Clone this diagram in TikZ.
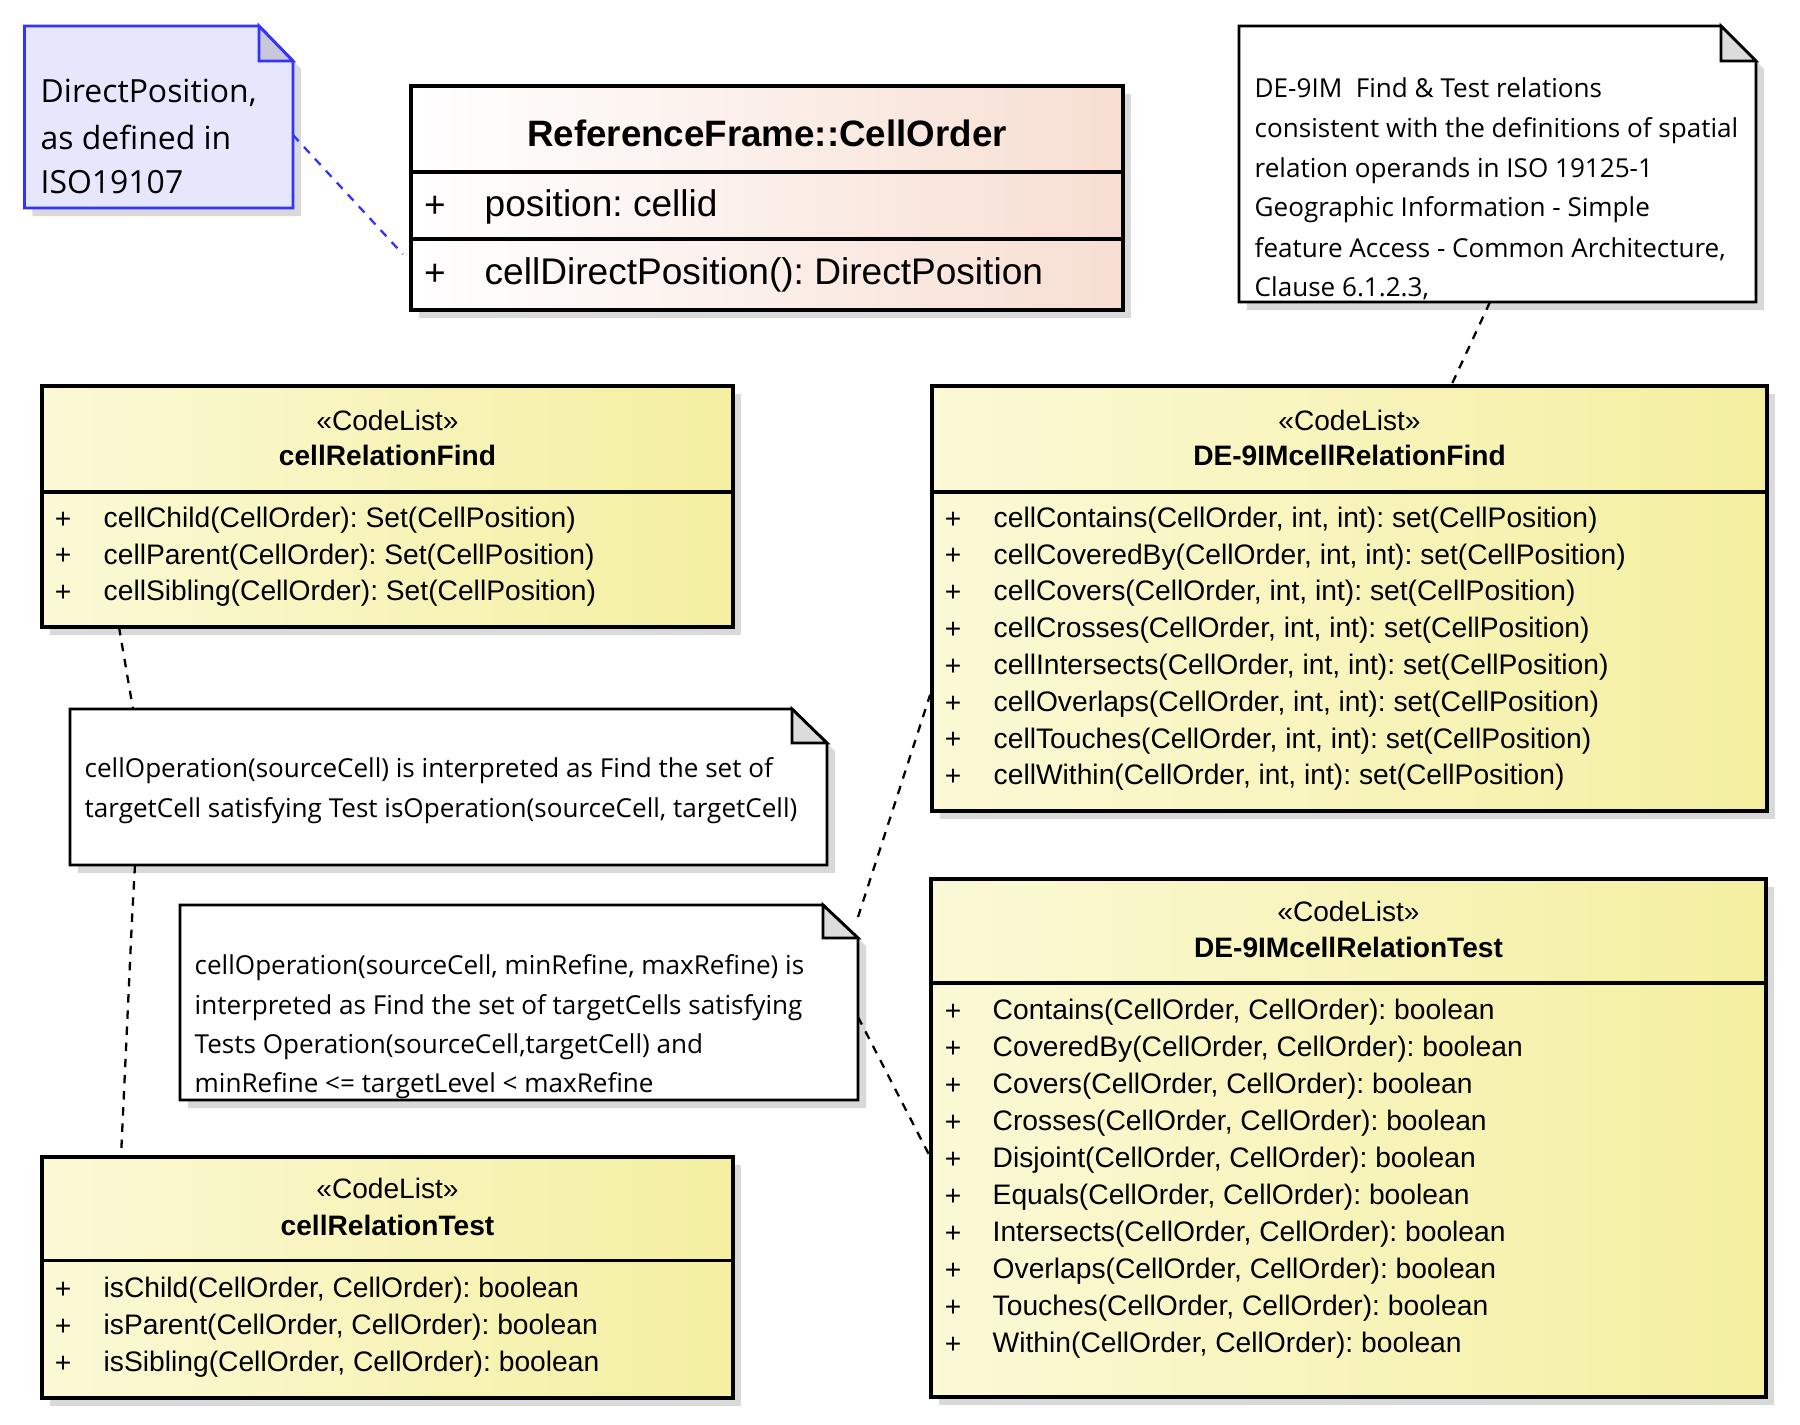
\documentclass[tikz,border=0pt]{standalone}
\usepackage{fontspec}
\usetikzlibrary{shadows}
\newfontfamily\clsfont{Liberation Sans}
\newfontfamily\notefont{Open Sans}
\definecolor{ylL}{RGB}{251,249,214}
\definecolor{ylR}{RGB}{244,239,160}
\definecolor{coR}{RGB}{247,222,210}
\definecolor{shgray}{RGB}{217,217,217}
\definecolor{bnote}{RGB}{230,230,252}
\definecolor{bline}{RGB}{51,51,255}
\definecolor{bfold}{RGB}{200,200,216}
\definecolor{wfold}{RGB}{220,220,220}
\frenchspacing
\begin{document}
\begin{tikzpicture}[
  myshadow/.style={drop shadow={shadow xshift=0.08cm,shadow yshift=-0.08cm,fill=shgray,opacity=1}},
  classbox/.style={draw,line width=0.9pt,inner sep=0pt,outer sep=0pt,left color=ylL,right color=ylR,anchor=north west,myshadow},
  orderbox/.style={draw,line width=0.9pt,inner sep=0pt,outer sep=0pt,left color=white,right color=coR,anchor=north west,myshadow},
  notearea/.style={inner sep=0pt,outer sep=0pt,anchor=north west},
  divider/.style={line width=0.9pt},
  notepath/.style={draw,line width=0.8pt,fill=white,myshadow},
  bnotepath/.style={draw=bline,line width=0.8pt,fill=bnote,myshadow},
  rowtxt/.style={font=\clsfont\fontsize{8.03}{9}\selectfont\frenchspacing,anchor=west,inner sep=0pt},
  plustxt/.style={font=\clsfont\fontsize{8.03}{9}\selectfont,anchor=center,inner sep=0pt},
  stereotxt/.style={font=\clsfont\fontsize{8.0}{9}\selectfont,anchor=center,inner sep=0pt},
  nametxt/.style={font=\clsfont\bfseries\fontsize{8.0}{9}\selectfont,anchor=center,inner sep=0pt},
  bigrow/.style={font=\clsfont\fontsize{10.55}{12}\selectfont\frenchspacing,anchor=west,inner sep=0pt},
  bigplus/.style={font=\clsfont\fontsize{10.5}{12}\selectfont,anchor=center,inner sep=0pt},
  bigname/.style={font=\clsfont\bfseries\fontsize{10.45}{12}\selectfont,anchor=center,inner sep=0pt},
  notetxt/.style={font=\notefont\fontsize{7.42}{9}\selectfont\frenchspacing,anchor=west,inner sep=0pt},
  bignotetxt/.style={font=\notefont\fontsize{9.08}{11}\selectfont\frenchspacing,anchor=west,inner sep=0pt},
  link/.style={line width=0.65pt,dash pattern=on 2.4pt off 2.2pt},
  blink/.style={line width=0.65pt,draw=bline,dash pattern=on 2.4pt off 2.2pt}
]
\useasboundingbox (0,0) rectangle (18,-14.25);

% ---------- note: DirectPosition ----------
\node[notearea,minimum width=2.685cm,minimum height=1.82cm] (dp) at (0.245,-0.26) {};
\path[bnotepath] (dp.north west) -- ([xshift=-0.34cm]dp.north east) -- ([yshift=-0.35cm]dp.north east) -- (dp.south east) -- (dp.south west) -- cycle;
\path[draw=bline,line width=0.8pt,fill=bfold] ([xshift=-0.34cm]dp.north east) -- ([xshift=-0.34cm,yshift=-0.35cm]dp.north east) -- ([yshift=-0.35cm]dp.north east) -- cycle;
\node[bignotetxt] at (0.40,-0.93) {DirectPosition,};
\node[bignotetxt] at (0.40,-1.37) {as defined in};
\node[bignotetxt] at (0.40,-1.82) {ISO19107};

% ---------- class: ReferenceFrame::CellOrder ----------
\node[orderbox,minimum width=7.12cm,minimum height=2.24cm] (co) at (4.11,-0.86) {};
\draw[divider] (co.west |- 0,-1.72) -- (co.east |- 0,-1.72);
\draw[divider] (co.west |- 0,-2.39) -- (co.east |- 0,-2.39);
\node[bigname] at (7.67,-1.33) {ReferenceFrame::CellOrder};
\node[bigplus] at (4.35,-2.065) {+};
\node[bigrow] at (4.84,-2.065) {position: cellid};
\node[bigplus] at (4.35,-2.745) {+};
\node[bigrow] at (4.84,-2.745) {cellDirectPosition(): DirectPosition};

% ---------- note: DE-9IM ----------
\node[notearea,minimum width=5.17cm,minimum height=2.76cm] (de) at (12.39,-0.26) {};
\path[notepath] (de.north west) -- ([xshift=-0.35cm]de.north east) -- ([yshift=-0.35cm]de.north east) -- (de.south east) -- (de.south west) -- cycle;
\path[draw,line width=0.8pt,fill=wfold] ([xshift=-0.35cm]de.north east) -- ([xshift=-0.35cm,yshift=-0.35cm]de.north east) -- ([yshift=-0.35cm]de.north east) -- cycle;
\node[notetxt] at (12.54,-0.88) {DE-9IM\ \ Find \& Test relations};
\node[notetxt] at (12.54,-1.305) {consistent with the definitions of spatial};
\node[notetxt] at (12.54,-1.705) {relation operands in ISO 19125-1};
\node[notetxt] at (12.54,-2.095) {Geographic Information - Simple};
\node[notetxt] at (12.54,-2.49) {feature Access - Common Architecture,};
\node[notetxt] at (12.54,-2.88) {Clause 6.1.2.3,};

% ---------- class: cellRelationFind ----------
\node[classbox,minimum width=6.91cm,minimum height=2.41cm] (crf) at (0.42,-3.86) {};
\draw[divider] (crf.west |- 0,-4.92) -- (crf.east |- 0,-4.92);
\node[stereotxt] at (3.875,-4.20) {«CodeList»};
\node[nametxt] at (3.875,-4.55) {cellRelationFind};
\foreach \t [count=\i from 0] in {{cellChild(CellOrder): Set(CellPosition)},{cellParent(CellOrder): Set(CellPosition)},{cellSibling(CellOrder): Set(CellPosition)}} {
  \node[plustxt] at (0.63,-5.20-0.367*\i) {+};
  \node[rowtxt] at (1.03,-5.20-0.367*\i) {\t};
}

% ---------- class: DE-9IMcellRelationFind ----------
\node[classbox,minimum width=8.35cm,minimum height=4.25cm] (dfind) at (9.32,-3.86) {};
\draw[divider] (dfind.west |- 0,-4.92) -- (dfind.east |- 0,-4.92);
\node[stereotxt] at (13.495,-4.20) {«CodeList»};
\node[nametxt] at (13.495,-4.55) {DE-9IMcellRelationFind};
\foreach \t [count=\i from 0] in {{cellContains(CellOrder, int, int): set(CellPosition)},{cellCoveredBy(CellOrder, int, int): set(CellPosition)},{cellCovers(CellOrder, int, int): set(CellPosition)},{cellCrosses(CellOrder, int, int): set(CellPosition)},{cellIntersects(CellOrder, int, int): set(CellPosition)},{cellOverlaps(CellOrder, int, int): set(CellPosition)},{cellTouches(CellOrder, int, int): set(CellPosition)},{cellWithin(CellOrder, int, int): set(CellPosition)}} {
  \node[plustxt] at (9.53,-5.20-0.368*\i) {+};
  \node[rowtxt] at (9.93,-5.20-0.368*\i) {\t};
}

% ---------- note 1 ----------
\node[notearea,minimum width=7.57cm,minimum height=1.56cm] (n1) at (0.70,-7.09) {};
\path[notepath] (n1.north west) -- ([xshift=-0.35cm]n1.north east) -- ([yshift=-0.34cm]n1.north east) -- (n1.south east) -- (n1.south west) -- cycle;
\path[draw,line width=0.8pt,fill=wfold] ([xshift=-0.35cm]n1.north east) -- ([xshift=-0.35cm,yshift=-0.34cm]n1.north east) -- ([yshift=-0.34cm]n1.north east) -- cycle;
\node[notetxt] at (0.84,-7.71) {cellOperation(sourceCell) is interpreted as Find the set of};
\node[notetxt] at (0.84,-8.11) {targetCell satisfying Test isOperation(sourceCell, targetCell)};

% ---------- note 2 ----------
\node[notearea,minimum width=6.78cm,minimum height=1.95cm] (n2) at (1.80,-9.05) {};
\path[notepath] (n2.north west) -- ([xshift=-0.35cm]n2.north east) -- ([yshift=-0.33cm]n2.north east) -- (n2.south east) -- (n2.south west) -- cycle;
\path[draw,line width=0.8pt,fill=wfold] ([xshift=-0.35cm]n2.north east) -- ([xshift=-0.35cm,yshift=-0.33cm]n2.north east) -- ([yshift=-0.33cm]n2.north east) -- cycle;
\node[notetxt] at (1.94,-9.68) {cellOperation(sourceCell, minRefine, maxRefine) is};
\node[notetxt] at (1.94,-10.075) {interpreted as Find the set of targetCells satisfying};
\node[notetxt] at (1.94,-10.47) {Tests Operation(sourceCell,targetCell) and};
\node[notetxt] at (1.94,-10.86) {minRefine <= targetLevel < maxRefine};

% ---------- class: cellRelationTest ----------
\node[classbox,minimum width=6.91cm,minimum height=2.41cm] (crt) at (0.42,-11.57) {};
\draw[divider] (crt.west |- 0,-12.605) -- (crt.east |- 0,-12.605);
\node[stereotxt] at (3.875,-11.88) {«CodeList»};
\node[nametxt] at (3.875,-12.25) {cellRelationTest};
\foreach \t [count=\i from 0] in {{isChild(CellOrder, CellOrder): boolean},{isParent(CellOrder, CellOrder): boolean},{isSibling(CellOrder, CellOrder): boolean}} {
  \node[plustxt] at (0.63,-12.90-0.37*\i) {+};
  \node[rowtxt] at (1.03,-12.90-0.37*\i) {\t};
}

% ---------- class: DE-9IMcellRelationTest ----------
\node[classbox,minimum width=8.35cm,minimum height=5.18cm] (dtest) at (9.31,-8.79) {};
\draw[divider] (dtest.west |- 0,-9.83) -- (dtest.east |- 0,-9.83);
\node[stereotxt] at (13.485,-9.11) {«CodeList»};
\node[nametxt] at (13.485,-9.47) {DE-9IMcellRelationTest};
\foreach \t [count=\i from 0] in {{Contains(CellOrder, CellOrder): boolean},{CoveredBy(CellOrder, CellOrder): boolean},{Covers(CellOrder, CellOrder): boolean},{Crosses(CellOrder, CellOrder): boolean},{Disjoint(CellOrder, CellOrder): boolean},{Equals(CellOrder, CellOrder): boolean},{Intersects(CellOrder, CellOrder): boolean},{Overlaps(CellOrder, CellOrder): boolean},{Touches(CellOrder, CellOrder): boolean},{Within(CellOrder, CellOrder): boolean}} {
  \node[plustxt] at (9.53,-10.12-0.37*\i) {+};
  \node[rowtxt] at (9.92,-10.12-0.37*\i) {\t};
}

% ---------- connectors ----------
\draw[blink,shorten >=0.12cm] ([yshift=-0.18cm]dp.east) -- ([yshift=-0.65cm]co.west);
\draw[link] ([xshift=-0.075cm]de.south) -- ([xshift=1.015cm]dfind.north);
\draw[link] ([xshift=-2.685cm]crf.south) -- ([xshift=-3.155cm]n1.north);
\draw[link] ([xshift=-3.135cm]n1.south) -- (1.32,-9.19) -- ([xshift=-2.665cm]crt.north);
\draw[link,shorten >=0.06cm] ([yshift=0.855cm]n2.east) -- ([yshift=-0.905cm]dfind.west);
\draw[link] ([yshift=-0.145cm]n2.east) -- ([yshift=-0.205cm]dtest.west);
\end{tikzpicture}
\end{document}
